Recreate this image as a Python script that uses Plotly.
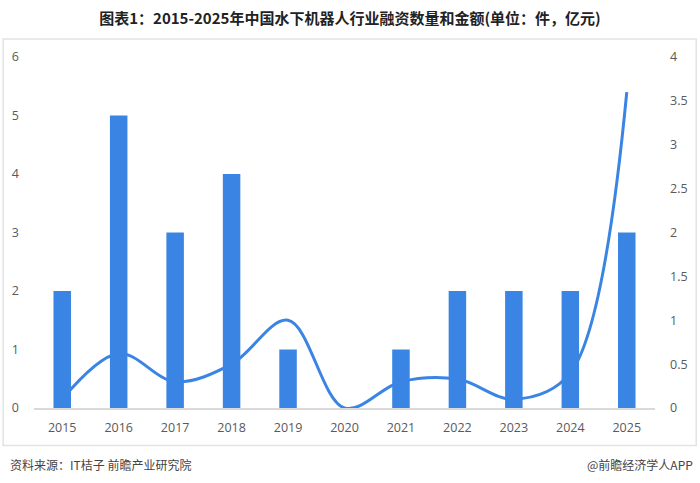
import plotly.graph_objects as go

years = ["2015", "2016", "2017", "2018", "2019", "2020", "2021", "2022", "2023", "2024", "2025"]
deal_counts = [2, 5, 3, 4, 1, 0, 1, 2, 2, 2, 3]
deal_amounts = [0.1, 0.62, 0.3, 0.5, 1.0, 0.0, 0.3, 0.33, 0.1, 0.4, 3.6]

left_ticks = [0, 1, 2, 3, 4, 5, 6]
right_ticks = [0, 0.5, 1, 1.5, 2, 2.5, 3, 3.5, 4]
right_tick_text = ["0", "0.5", "1", "1.5", "2", "2.5", "3", "3.5", "4"]

title_text = "图表1：2015-2025年中国水下机器人行业融资数量和金额(单位：件，亿元)"
source_text = "资料来源：IT桔子 前瞻产业研究院"
brand_text = "@前瞻经济学人APP"

BLUE = "#3A85E4"
TICK = "#595959"
FONT = "Noto Sans CJK SC"
TICK_FONT = "Open Sans"

W, H = 700, 483
L, R, T, B = 32, 43, 57, 75
pw, ph = W - L - R, H - T - B

def px_x(p):
    return (p - L) / pw

def px_y(p):
    return (H - B - p) / ph

fig = go.Figure()
fig.add_trace(go.Bar(x=years, y=deal_counts, marker=dict(color=BLUE, line=dict(width=0)),
                     width=0.31, yaxis="y", name="融资数量"))
fig.add_trace(go.Scatter(x=years, y=deal_amounts, mode="lines",
                         line=dict(color=BLUE, width=3, shape="spline", smoothing=1.0),
                         yaxis="y2", name="融资金额"))

tf = dict(family=TICK_FONT, size=12.5, color=TICK)

fig.update_layout(
    width=W, height=H,
    margin=dict(l=L, r=R, t=T, b=B),
    paper_bgcolor="white", plot_bgcolor="white",
    showlegend=False,
    font=dict(family=FONT, color=TICK, size=12),
    title=dict(text=title_text, x=0.5, xref="container", xanchor="center",
               y=1 - 19 / H, yref="container", yanchor="middle",
               font=dict(family=FONT, size=15, color="#222222", weight="bold")),
    xaxis=dict(type="category", showgrid=False, showline=True, linecolor="#d9d9d9",
               linewidth=2, ticks="", tickfont=tf,
               layer="below traces", ticklabelstandoff=7),
    yaxis=dict(range=[0, 6], tickvals=left_ticks, showgrid=False, zeroline=False,
               showline=False, ticks="", tickfont=tf,
               ticklabelstandoff=14),
    yaxis2=dict(range=[0, 4], tickvals=right_ticks, ticktext=right_tick_text,
                overlaying="y", side="right", showgrid=False, zeroline=False,
                showline=False, ticks="", tickfont=tf,
                ticklabelstandoff=14),
    shapes=[dict(type="rect", xref="paper", yref="paper",
                 x0=px_x(1), x1=px_x(698.5), y0=px_y(445.5), y1=px_y(39),
                 line=dict(color="#e3e3e3", width=1.5), fillcolor="rgba(0,0,0,0)",
                 layer="below")],
    annotations=[
        dict(text=source_text, xref="paper", yref="paper", x=px_x(6), y=px_y(464),
             xanchor="left", yanchor="middle", showarrow=False,
             font=dict(family=FONT, size=12, color="#444444")),
        dict(text=brand_text, xref="paper", yref="paper", x=px_x(697), y=px_y(464),
             xanchor="right", yanchor="middle", showarrow=False,
             font=dict(family=FONT, size=12, color="#444444")),
    ],
)

fig.write_html("out.html", config={"displayModeBar": False},
               post_script="document.body.style.margin='0px';document.body.style.padding='0px';")
